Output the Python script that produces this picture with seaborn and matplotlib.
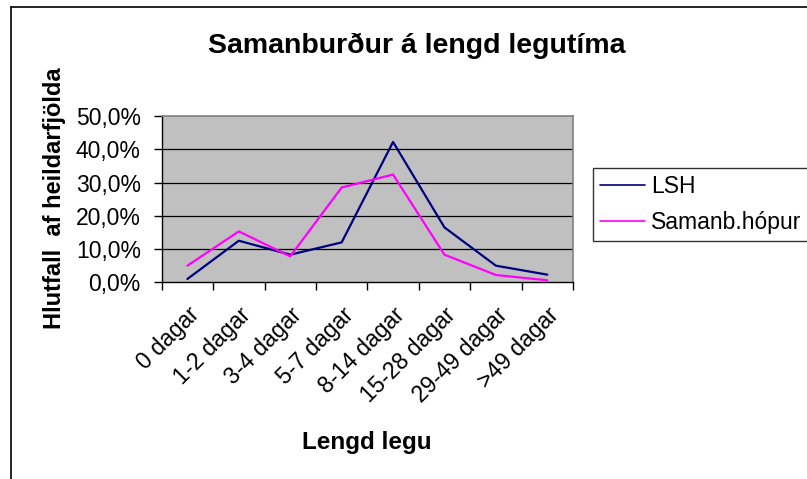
import numpy as np
import pandas as pd
import matplotlib
matplotlib.use("Agg")
import matplotlib.pyplot as plt
import matplotlib.transforms as mtransforms
from matplotlib.lines import Line2D
from matplotlib.ticker import FuncFormatter
import seaborn as sns

categories = ["0 dagar", "1-2 dagar", "3-4 dagar", "5-7 dagar",
              "8-14 dagar", "15-28 dagar", "29-49 dagar", ">49 dagar"]
lsh = [1.0, 12.5, 8.3, 12.0, 42.2, 16.5, 5.0, 2.3]
samanb = [5.0, 15.3, 7.8, 28.5, 32.4, 8.3, 2.2, 0.6]
series_names = ["LSH", "Samanb.hópur"]
yticks = [0, 10, 20, 30, 40, 50]

sns.set_theme(style="white")
plt.rcParams["font.family"] = ["Liberation Sans", "DejaVu Sans"]
plt.rcParams["text.color"] = "black"
plt.rcParams["xtick.color"] = "black"
plt.rcParams["ytick.color"] = "black"
plt.rcParams["axes.labelcolor"] = "black"

pos = np.arange(len(categories))
df = pd.DataFrame({
    "pos": np.concatenate([pos, pos]),
    "value": lsh + samanb,
    "series": [series_names[0]] * len(lsh) + [series_names[1]] * len(samanb),
})

W, H = 807, 479
fig = plt.figure(figsize=(W / 100, H / 100), dpi=100)
fig.patch.set_facecolor("white")
left, right, top, bottom = 161.7, 573, 116, 282.3
ax = fig.add_axes([left / W, 1 - bottom / H, (right - left) / W, (bottom - top) / H])
ax.set_facecolor("#C0C0C0")

sns.lineplot(data=df, x="pos", y="value", hue="series", hue_order=series_names,
             palette=["#000080", "#FF00FF"], linewidth=1.6, sort=False,
             legend=True, ax=ax)

ax.set_xlim(-0.5, len(categories) - 0.5)
ax.set_ylim(0, 50)
ax.set_yticks(yticks)
ax.yaxis.set_major_formatter(FuncFormatter(lambda v, p: f"{v:.1f}".replace(".", ",") + "%"))
ax.grid(False)
for yv in yticks[1:-1]:
    ax.axhline(yv, color="black", linewidth=0.9, zorder=1)

ax.set_xticks(np.arange(len(categories) + 1) - 0.5)
ax.set_xticklabels([])
ax.set_xticks(pos, minor=True)
ax.set_xticklabels(categories, minor=True, rotation=45, ha="right", va="top",
                   rotation_mode="anchor", fontsize=16.5, color="black")
offset = mtransforms.ScaledTranslation(-17 / 100, 0, fig.dpi_scale_trans)
for lab in ax.get_xticklabels(minor=True):
    lab.set_transform(lab.get_transform() + offset)

ax.tick_params(axis="x", which="major", direction="out", length=6, width=1,
               color="black", bottom=True)
ax.tick_params(axis="x", which="minor", length=0, pad=15, bottom=True, labelcolor="black")
ax.tick_params(axis="y", which="major", direction="out", length=6, width=1,
               color="black", left=True, pad=9, labelsize=16.5, labelcolor="black")

for s in ["top", "right"]:
    ax.spines[s].set_color("#808080")
    ax.spines[s].set_linewidth(1.2)
for s in ["left", "bottom"]:
    ax.spines[s].set_color("black")
    ax.spines[s].set_linewidth(1.0)

ax.set_xlabel("")
ax.set_ylabel("")

fig.text(416.5 / W, 1 - 53 / H, "Samanburður á lengd legutíma", ha="center",
         va="baseline", fontsize=20.5, fontweight="bold", color="black")
fig.text(367 / W, 1 - 442 / H, "Lengd legu", ha="center", va="center",
         fontsize=17.5, fontweight="bold", color="black")
fig.text(55 / W, 1 - 198 / H, "Hlutfall  af heildarfjölda", ha="center", va="center",
         rotation=90, fontsize=17, fontweight="bold", color="black")

handles, labels = ax.get_legend_handles_labels()
ax.get_legend().remove()
leg = fig.legend(handles, labels, loc="upper left",
                 bbox_to_anchor=(593 / W, 1 - 168 / H), bbox_transform=fig.transFigure,
                 borderaxespad=0, frameon=True, fancybox=False, edgecolor="black",
                 fontsize=16.5, handlelength=1.95, handletextpad=0.28,
                 labelspacing=0.55, borderpad=0.32)
leg.get_frame().set_linewidth(1.0)
for t in leg.get_texts():
    t.set_color("black")
for lh in leg.get_lines():
    lh.set_linewidth(1.2)

fig.add_artist(Line2D([10.5 / W, 10.5 / W], [0, 1 - 7 / H], transform=fig.transFigure,
                      color="black", linewidth=1.2))
fig.add_artist(Line2D([10.5 / W, 1], [1 - 7 / H, 1 - 7 / H], transform=fig.transFigure,
                      color="black", linewidth=1.2))

fig.savefig("out.png", dpi=100)
